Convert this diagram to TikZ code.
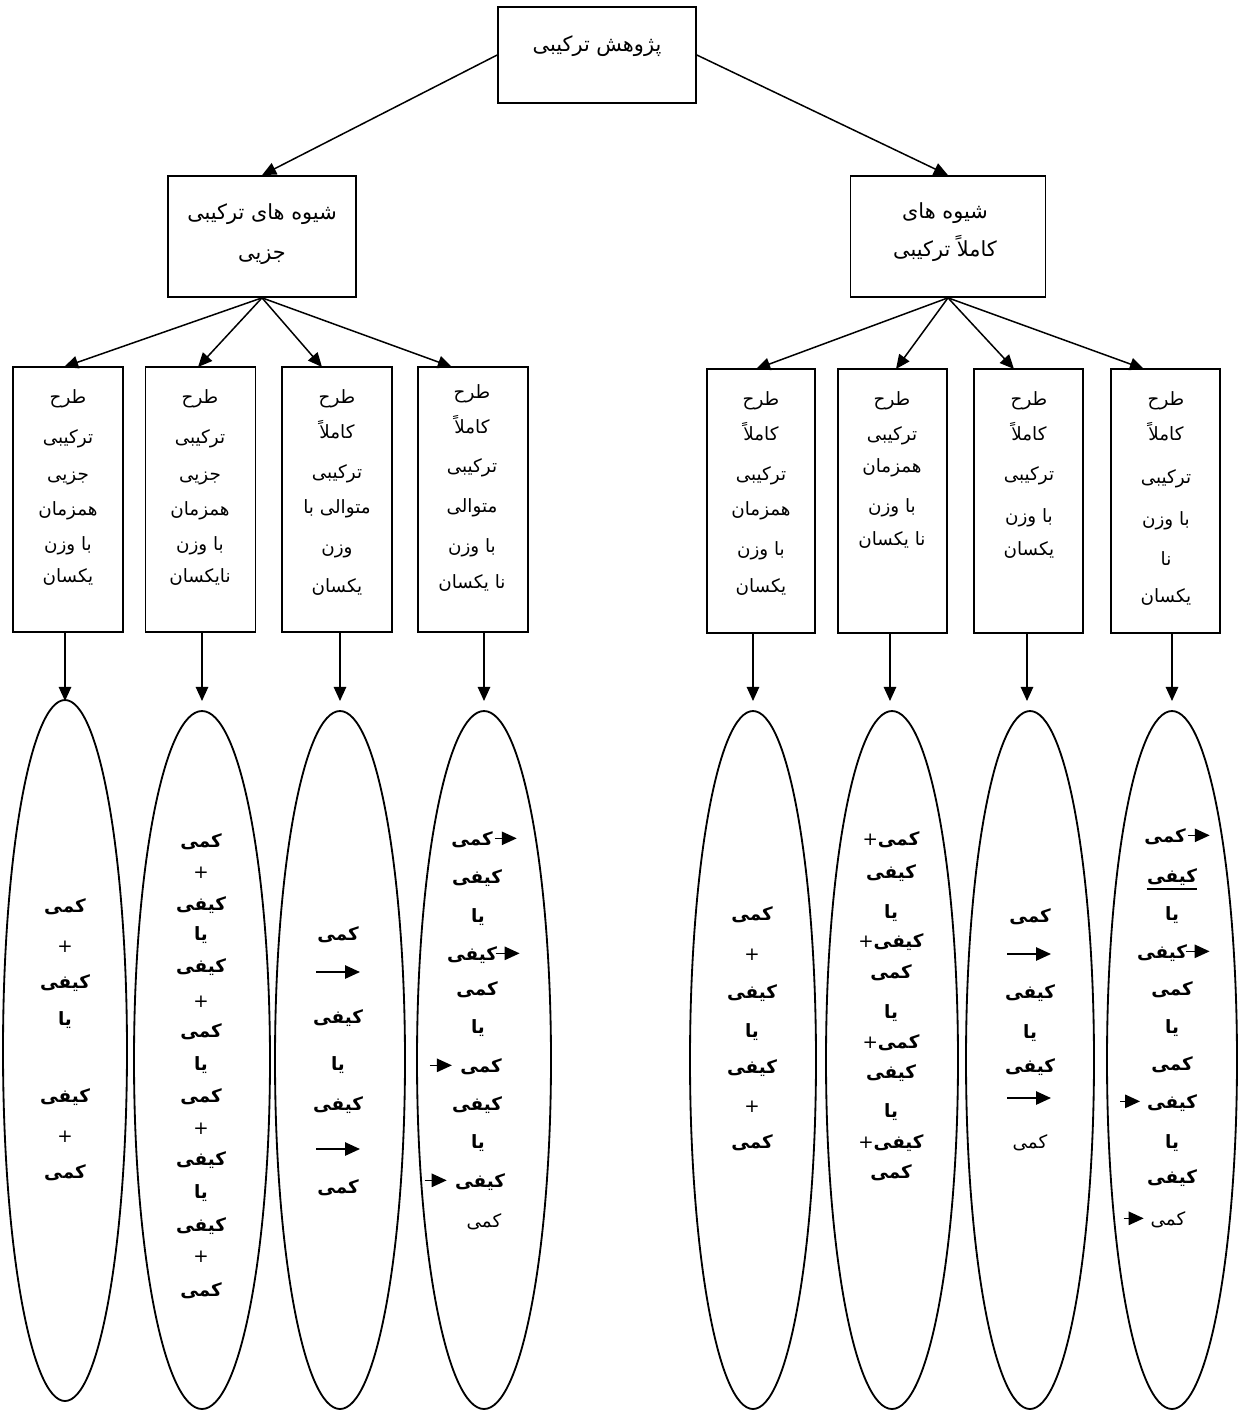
\documentclass[tikz,border=0pt]{standalone}
\usepackage{fontspec}
\usetikzlibrary{arrows.meta,shapes.geometric}
\TeXXeTstate=1
\newfontfamily\fa[Script=Arabic]{DejaVu Sans}
\newcommand\rl[1]{\beginR#1\endR}
\begin{document}
\begin{tikzpicture}[x=0.6pt,y=-0.6pt,
  bx/.style={draw,line width=1pt,inner sep=0},
  ell/.style={draw,ellipse,line width=1.1pt,inner sep=0},
  conn/.style={line width=0.9pt,-{Triangle[length=8.5pt,width=7.5pt]}},
  inarr/.style={line width=1pt,-{Triangle[length=9pt,width=8pt]}},
  hd/.style={font=\fa\fontsize{12.5}{15}\selectfont,inner sep=0,anchor=base},
  sm/.style={font=\fa\fontsize{11}{13}\selectfont,inner sep=0,anchor=base},
  tx/.style={font=\fa\fontsize{11}{13}\selectfont,inner sep=0,anchor=base}]
\fill[white] (0,0) rectangle (1243,1410);
\useasboundingbox (0,0) rectangle (1243,1410);

% top levels
\node[bx,minimum width=118.8pt,minimum height=57.6pt] (top) at (597,55) {};
\node[hd] (toptx) at (597,51) {\rl{پژوهش ترکیبی}};
\node[bx,minimum width=112.8pt,minimum height=72.6pt] (ml) at (262,236.5) {};
\node[hd] (ml1) at (262,219) {\rl{شیوه های ترکیبی}};
\node[hd] (ml2) at (262,259) {\rl{جزیی}};
\node[bx,minimum width=117pt,minimum height=72.6pt] (mr) at (948,236.5) {};
\node[hd] (mr1) at (945,218) {\rl{شیوه های}};
\node[hd] (mr2) at (945,256) {\rl{کاملاً ترکیبی}};
\draw[conn] (top.west) -- (ml.north);
\draw[conn] (top.east) -- (mr.north);

% small boxes
\node[bx,minimum width=66pt,minimum height=159pt] (b1) at (68,499.5) {};
\node[bx,minimum width=66pt,minimum height=159pt] (b2) at (200.5,499.5) {};
\node[bx,minimum width=66pt,minimum height=159pt] (b3) at (337,499.5) {};
\node[bx,minimum width=66pt,minimum height=159pt] (b4) at (473,499.5) {};
\node[bx,minimum width=64.8pt,minimum height=158.4pt] (b5) at (761,501) {};
\node[bx,minimum width=65.4pt,minimum height=158.4pt] (b6) at (892.5,501) {};
\node[bx,minimum width=65.4pt,minimum height=158.4pt] (b7) at (1028.5,501) {};
\node[bx,minimum width=65.4pt,minimum height=158.4pt] (b8) at (1165.5,501) {};

\coordinate (t1) at (64,367);  \coordinate (t2) at (198,367);
\coordinate (t3) at (322,367); \coordinate (t4) at (452,367);
\coordinate (t5) at (756,369); \coordinate (t6) at (896,369);
\coordinate (t7) at (1014,369);\coordinate (t8) at (1144,369);
\foreach \k in {1,2,3,4} \draw[conn] (ml.south) -- (t\k);
\foreach \k in {5,6,7,8} \draw[conn] (mr.south) -- (t\k);

% small box texts
\foreach \yy/\w [count=\i] in {398/طرح,438/ترکیبی,475/جزیی,510/همزمان,545/با وزن,577/یکسان}
  \node[sm] (b1l\i) at (68,\yy+5) {\rl{\w}};
\foreach \yy/\w [count=\i] in {398/طرح,438/ترکیبی,475/جزیی,510/همزمان,545/با وزن,577/نایکسان}
  \node[sm] (b2l\i) at (200,\yy+5) {\rl{\w}};
\foreach \yy/\w [count=\i] in {398/طرح,433/کاملاً,473/ترکیبی,508/متوالی با,548/وزن,587/یکسان}
  \node[sm] (b3l\i) at (337,\yy+5) {\rl{\w}};
\foreach \yy/\w [count=\i] in {393/طرح,428/کاملاً,467/ترکیبی,507/متوالی,547/با وزن,583/نا یکسان}
  \node[sm] (b4l\i) at (472,\yy+5) {\rl{\w}};
\foreach \yy/\w [count=\i] in {400/طرح,435/کاملاً,475/ترکیبی,510/همزمان,550/با وزن,587/یکسان}
  \node[sm] (b5l\i) at (761,\yy+5) {\rl{\w}};
\foreach \yy/\w [count=\i] in {400/طرح,435/ترکیبی,467/همزمان,507/با وزن,540/نا یکسان}
  \node[sm] (b6l\i) at (892,\yy+5) {\rl{\w}};
\foreach \yy/\w [count=\i] in {400/طرح,435/کاملاً,475/ترکیبی,517/با وزن,550/یکسان}
  \node[sm] (b7l\i) at (1029,\yy+5) {\rl{\w}};
\foreach \yy/\w [count=\i] in {400/طرح,435/کاملاً,478/ترکیبی,520/با وزن,560/نا,597/یکسان}
  \node[sm] (b8l\i) at (1166,\yy+5) {\rl{\w}};

% ellipses
\node[ell,minimum width=74.4pt,minimum height=420.6pt] (e1) at (65,1050.5) {};
\node[ell,minimum width=81.6pt,minimum height=418.8pt] (e2) at (202,1060) {};
\node[ell,minimum width=78pt,minimum height=418.8pt] (e3) at (340,1060) {};
\node[ell,minimum width=80.4pt,minimum height=418.8pt] (e4) at (484,1060) {};
\node[ell,minimum width=75.6pt,minimum height=418.8pt] (e5) at (753,1060) {};
\node[ell,minimum width=79.2pt,minimum height=418.8pt] (e6) at (892,1060) {};
\node[ell,minimum width=76.8pt,minimum height=418.8pt] (e7) at (1030,1060) {};
\node[ell,minimum width=78pt,minimum height=418.8pt] (e8) at (1172,1060) {};

\coordinate (a1) at (65,701);  \coordinate (a2) at (202,701);
\coordinate (a3) at (340,701); \coordinate (a4) at (484,701);
\coordinate (a5) at (753,701); \coordinate (a6) at (890,701);
\coordinate (a7) at (1027,701);\coordinate (a8) at (1172,701);
\foreach \k in {1,...,8} \draw[conn] (b\k.south -| a\k) -- (a\k);

% ellipse texts
\foreach \yy/\w/\ws [count=\i] in {907/کمی/\bfseries,947/+/\mdseries,983/کیفی/\bfseries,1020/یا/\bfseries,1097/کیفی/\bfseries,1137/+/\mdseries,1173/کمی/\bfseries}
  \node[tx] (e1l\i) at (65,\yy+5) {\ws\rl{\w}};
\foreach \yy/\w/\ws [count=\i] in {842/کمی/\bfseries,873/+/\mdseries,905/کیفی/\bfseries,935/یا/\bfseries,967/کیفی/\bfseries,1002/+/\mdseries,1032/کمی/\bfseries,1065/یا/\bfseries,1097/کمی/\bfseries,1129/+/\mdseries,1160/کیفی/\bfseries,1193/یا/\bfseries,1226/کیفی/\bfseries,1257/+/\mdseries,1291/کمی/\bfseries}
  \node[tx] (e2l\i) at (201,\yy+5) {\ws\rl{\w}};
\foreach \yy/\w [count=\i] in {935/کمی,1018/کیفی,1065/یا,1105/کیفی,1188/کمی}
  \node[tx] (e3l\i) at (338,\yy+5) {\bfseries\rl{\w}};
\coordinate (e3a1) at (316,972); \coordinate (e3a2) at (316,1149);
\draw[inarr] (e3a1) -- ++(44,0);
\draw[inarr] (e3a2) -- ++(44,0);

\foreach \xx/\yy/\w/\ws [count=\i] in {472/840/کمی/\bfseries,477/878/کیفی/\bfseries,478/917/یا/\bfseries,472/955/کیفی/\bfseries,477/990/کمی/\bfseries,478/1028/یا/\bfseries,481/1067/کمی/\bfseries,477/1105/کیفی/\bfseries,478/1143/یا/\bfseries,480/1182/کیفی/\bfseries,484/1222/کمی/\mdseries}
  \node[tx] (e4l\i) at (\xx,\yy+5) {\ws\rl{\w}};
\draw[inarr] ([xshift=1pt,yshift=4pt]e4l1.base east) -- ++(22,0);
\draw[inarr] ([xshift=-1pt,yshift=4pt]e4l4.base east) -- ++(24,0);
\draw[inarr] ([xshift=-18pt,yshift=4pt]e4l7.base west) -- ++(22,0);
\draw[inarr] ([xshift=-18pt,yshift=4pt]e4l10.base west) -- ++(22,0);

\foreach \yy/\w/\ws [count=\i] in {915/کمی/\bfseries,955/+/\mdseries,993/کیفی/\bfseries,1032/یا/\bfseries,1068/کیفی/\bfseries,1107/+/\mdseries,1143/کمی/\bfseries}
  \node[tx] (e5l\i) at (752,\yy+5) {\ws\rl{\w}};
\foreach \yy/\w/\pl [count=\i] in {840/کمی/+,873/کیفی/,913/یا/,942/کیفی/+,973/کمی/,1013/یا/,1043/کمی/+,1073/کیفی/,1112/یا/,1143/کیفی/+,1173/کمی/}
  \node[tx] (e6l\i) at (891,\yy+5) {\rl{{\bfseries\w}\pl}};

\foreach \yy/\w/\ws [count=\i] in {917/کمی/\bfseries,993/کیفی/\bfseries,1033/یا/\bfseries,1067/کیفی/\bfseries,1143/کمی/\mdseries}
  \node[tx] (e7l\i) at (1030,\yy+5) {\ws\rl{\w}};
\coordinate (e7a1) at (1007,954); \coordinate (e7a2) at (1007,1098);
\draw[inarr] (e7a1) -- ++(44,0);
\draw[inarr] (e7a2) -- ++(44,0);

\foreach \xx/\yy/\w/\ws [count=\i] in {1165/837/کمی/\bfseries,1172/877/کیفی/\bfseries,1172/915/یا/\bfseries,1162/953/کیفی/\bfseries,1172/990/کمی/\bfseries,1172/1028/یا/\bfseries,1172/1065/کمی/\bfseries,1172/1103/کیفی/\bfseries,1172/1143/یا/\bfseries,1172/1178/کیفی/\bfseries,1168/1220/کمی/\mdseries}
  \node[tx] (e8l\i) at (\xx,\yy+5) {\ws\rl{\w}};
\draw[line width=1pt] ([yshift=-4pt]e8l2.base west) -- ([yshift=-4pt]e8l2.base east);
\draw[inarr] ([xshift=1pt,yshift=4pt]e8l1.base east) -- ++(22,0);
\draw[inarr] ([xshift=-1pt,yshift=4pt]e8l4.base east) -- ++(24,0);
\draw[inarr] ([xshift=-16pt,yshift=4pt]e8l8.base west) -- ++(20,0);
\draw[inarr] ([xshift=-16pt,yshift=4pt]e8l11.base west) -- ++(20,0);
\end{tikzpicture}
\end{document}
